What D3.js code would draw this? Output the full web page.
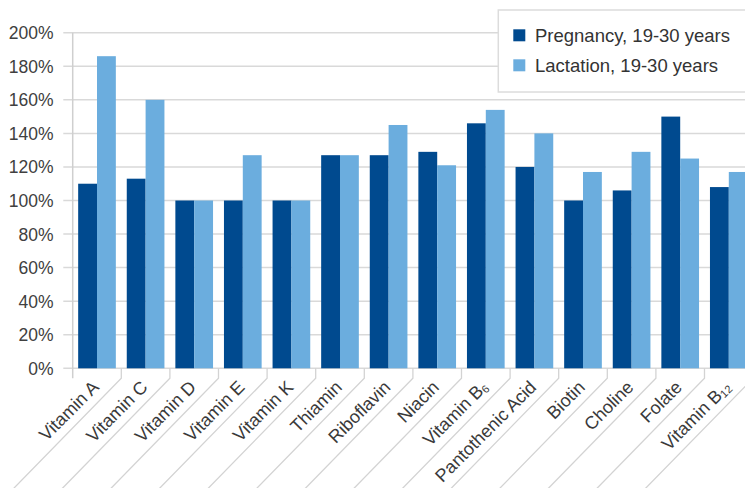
<!DOCTYPE html>
<html>
<head>
<meta charset="utf-8">
<script src="https://cdn.jsdelivr.net/npm/d3@7"></script>
<style>
  html, body { margin: 0; padding: 0; background: #fff; }
  svg { display: block; font-family: "Liberation Sans", Arial, sans-serif; }
</style>
</head>
<body>
<div id="content"></div>
<script>
var categories = ["Vitamin A", "Vitamin C", "Vitamin D", "Vitamin E", "Vitamin K", "Thiamin", "Riboflavin",
    "Niacin", "Vitamin B6", "Pantothenic Acid", "Biotin", "Choline", "Folate", "Vitamin B12"];
var seriesNames = ["Pregnancy, 19-30 years", "Lactation, 19-30 years"];
var pregnancy = [1.10, 1.13, 1.00, 1.00, 1.00, 1.27, 1.27, 1.29, 1.46, 1.20, 1.00, 1.06, 1.50, 1.08];
var lactation = [1.86, 1.60, 1.00, 1.27, 1.00, 1.27, 1.45, 1.21, 1.54, 1.40, 1.17, 1.29, 1.25, 1.17];
var yTicks = [0, 0.2, 0.4, 0.6, 0.8, 1.0, 1.2, 1.4, 1.6, 1.8, 2.0];
var colors = ["#004a8f", "#6badde"];

var width = 745;
var height = 488;
var left = 72.7;
var step = 48.6;
var top0 = 32.7;
var bottom0 = 368.3;

var svg = d3.select("#content").append("svg")
    .attr("width", width)
    .attr("height", height);

var x0 = d3.scaleBand()
    .domain(categories)
    .range([left, left + step * categories.length])
    .padding(0);

var x1 = d3.scaleBand()
    .domain(seriesNames)
    .range([0, x0.bandwidth()])
    .paddingInner(0)
    .paddingOuter(0.29);

var y = d3.scaleLinear()
    .domain([0, 2])
    .range([bottom0, top0]);

// gridlines
svg.append("g")
    .selectAll("line")
    .data(yTicks)
    .enter()
    .append("line")
    .attr("x1", left - 9.4)
    .attr("x2", left + step * categories.length)
    .attr("y1", function(d) { return y(d); })
    .attr("y2", function(d) { return y(d); })
    .style("stroke", "#d9d9d9")
    .style("stroke-width", 1.5);

// y axis line
svg.append("line")
    .attr("x1", left).attr("x2", left)
    .attr("y1", y(2)).attr("y2", bottom0 + 10)
    .style("stroke", "#cfcfcf")
    .style("stroke-width", 1.5);

// y tick labels
svg.append("g")
    .selectAll("text")
    .data(yTicks)
    .enter()
    .append("text")
    .attr("x", 53.5)
    .attr("y", function(d) { return y(d) + 6.5; })
    .attr("text-anchor", "end")
    .style("font-size", "17.5px")
    .style("fill", "#404040")
    .text(function(d) { return Math.round(d * 100) + "%"; });

// category boundaries: small tick + long diagonal
var bounds = categories.map(function(d) { return x0(d) + x0.bandwidth(); });
svg.append("g")
    .selectAll("path")
    .data(bounds)
    .enter()
    .append("path")
    .attr("d", function(b) {
        return "M" + b + "," + bottom0 + "L" + b + "," + (bottom0 + 10) +
            "L" + (b - 130) + "," + (bottom0 + 10 + 133);
    })
    .style("fill", "none")
    .style("stroke", "#d3d3d3")
    .style("stroke-width", 1.3);

// bars
var rows = categories.map(function(c, i) {
    return { cat: c, vals: [pregnancy[i], lactation[i]] };
});

var groups = svg.append("g")
    .selectAll("g")
    .data(rows)
    .enter()
    .append("g")
    .attr("transform", function(d) { return "translate(" + x0(d.cat) + ",0)"; });

groups.selectAll("rect")
    .data(function(d) { return d.vals.map(function(v, j) { return { s: seriesNames[j], v: v, j: j }; }); })
    .enter()
    .append("rect")
    .attr("x", function(d) { return x1(d.s); })
    .attr("width", x1.bandwidth())
    .attr("y", function(d) { return y(d.v); })
    .attr("height", function(d) { return bottom0 - y(d.v); })
    .style("fill", function(d) { return colors[d.j]; });

// x labels, rotated
var labels = svg.append("g")
    .selectAll("text")
    .data(categories)
    .enter()
    .append("text")
    .attr("transform", function(d) {
        return "translate(" + (x0(d) + x0.bandwidth() / 2 + 3) + "," + (bottom0 + 20) + ") rotate(-45)";
    })
    .attr("text-anchor", "end")
    .style("font-size", "18px")
    .style("fill", "#3a3a3a");

labels.each(function(d) {
    var t = d3.select(this);
    var m = d.match(/^(Vitamin B)(\d+)$/);
    if (m) {
        t.append("tspan").text(m[1]);
        t.append("tspan").attr("dy", 2).style("font-size", "11px").text(m[2]);
    } else {
        t.text(d);
    }
});

// legend
var legend = svg.append("g");
legend.append("rect")
    .attr("x", 498.3)
    .attr("y", 10)
    .attr("width", 270)
    .attr("height", 82)
    .style("fill", "#fff")
    .style("stroke", "#dcdcdc")
    .style("stroke-width", 1.5);

var items = legend.selectAll("g.item")
    .data(seriesNames)
    .enter()
    .append("g")
    .attr("class", "item")
    .attr("transform", function(d, i) { return "translate(513.3," + (29.3 + i * 30) + ")"; });

items.append("rect")
    .attr("width", 12)
    .attr("height", 12)
    .style("fill", function(d, i) { return colors[i]; });

items.append("text")
    .attr("x", 21.7)
    .attr("y", 13)
    .style("font-size", "18.5px")
    .style("fill", "#333")
    .text(function(d) { return d; });
</script>
</body>
</html>
